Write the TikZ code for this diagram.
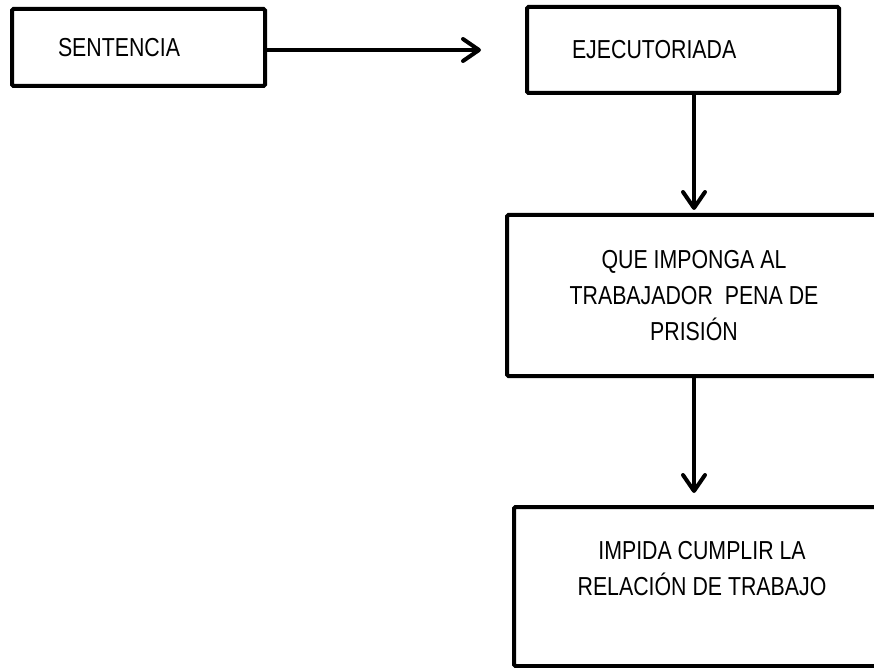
\documentclass[tikz,border=0pt]{standalone}
\usepackage{fontspec}
\setmainfont{Liberation Sans}[FakeStretch=0.82]
\usetikzlibrary{arrows.meta,calc}
\begin{document}
\begin{tikzpicture}[x=1pt,y=-1pt,
  box/.style={draw=black,line width=4pt,rounded corners=1.5pt,rectangle,
    font=\fontsize{26}{36}\selectfont,fill=white},
  leftbox/.style={box,align=left,inner ysep=0pt},
  arr/.style={draw=black,line width=4pt,-{Straight Barb[length=16pt,width=22pt,round]}}]
\useasboundingbox (0,0) rectangle (874,668);
\clip (0,0) rectangle (874,668);
\node[leftbox,minimum width=253pt,minimum height=77pt,inner xsep=46pt,text width=161pt] (sent) at (138.5,47.5) {SENTENCIA};
\node[leftbox,minimum width=312pt,minimum height=86pt,inner xsep=45pt,text width=222pt] (ej) at (683,50) {EJECUTORIADA};
\node[box,align=center,minimum width=374pt,minimum height=161pt] (que) at (694,295.5) {QUE IMPONGA AL\\TRABAJADOR\ \ PENA DE\\PRISIÓN};
\node[box,align=center,minimum width=376pt,minimum height=159pt] (imp) at (702,586.5) {IMPIDA CUMPLIR LA\\RELACIÓN DE TRABAJO\\\mbox{}};
\draw[arr,shorten >=44pt] (sent.east |- ej.center) -- (ej.west);
\draw[arr,shorten >=3pt] (que.north |- ej.south) -- (que.north);
\draw[arr,shorten >=12pt] (que.south) -- (que.south |- imp.north);
\end{tikzpicture}
\end{document}
